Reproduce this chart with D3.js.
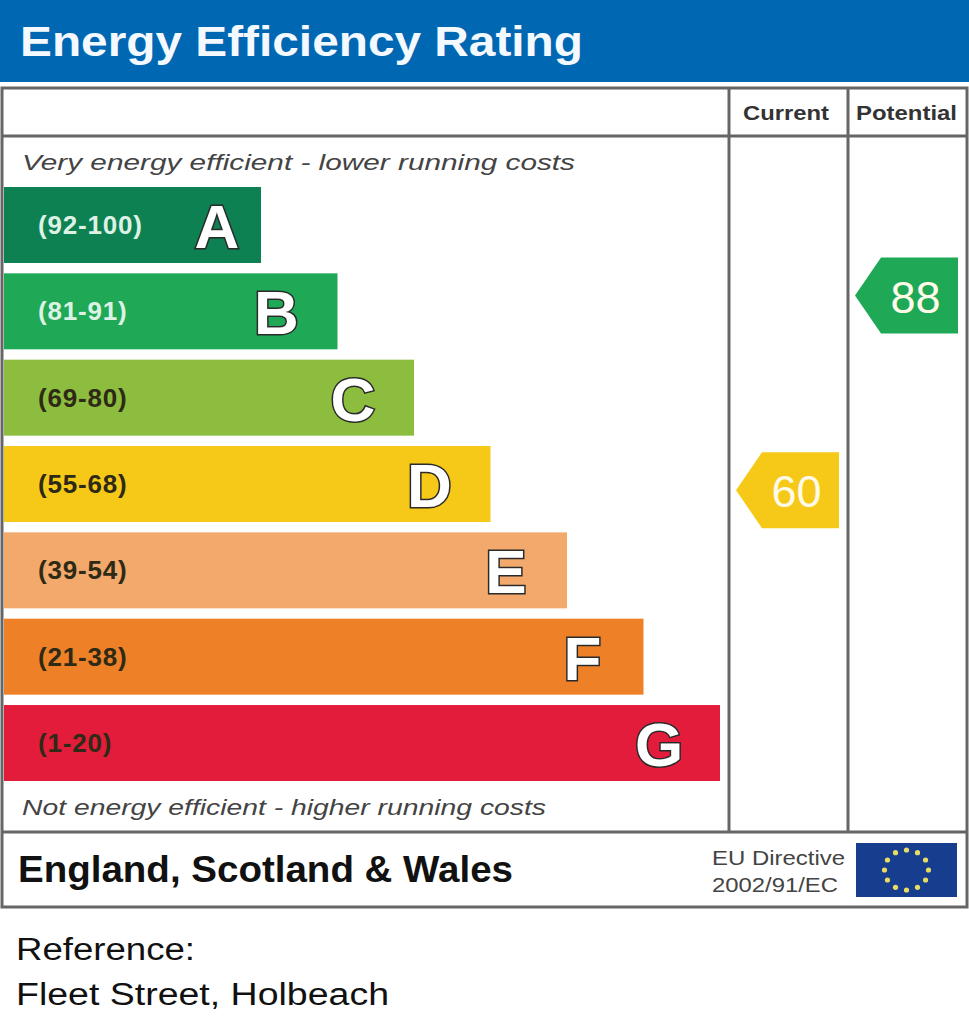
<!DOCTYPE html>
<html>
<head>
<meta charset="utf-8">
<script src="https://cdn.jsdelivr.net/npm/d3@7"></script>
<style>
  body { margin: 0; background: #fff; }
  text { font-family: "Liberation Sans", Arial, sans-serif; }
</style>
</head>
<body>
<script>
/* epc.js */

// Rating bands, top (best) to bottom (worst)
var bandLetters = ["A", "B", "C", "D", "E", "F", "G"];
var bandRanges = ["(92-100)", "(81-91)", "(69-80)", "(55-68)", "(39-54)", "(21-38)", "(1-20)"];
var bandLow = [92, 81, 69, 55, 39, 21, 1];
var bandHigh = [100, 91, 80, 68, 54, 38, 20];
var bandColors = ["#0e8153", "#1fa956", "#8cbd3f", "#f6c919", "#f2a96b", "#ee8128", "#e41c3b"];
var bandLabelColors = ["#ddf2e4", "#ddf2e4", "#2e2a16", "#2e2a16", "#2e2a16", "#2e2a16", "#2e2a16"];

// Ratings for this property
var columnNames = ["Current", "Potential"];
var ratingValues = [60, 88];

const width = 969;
const height = 1024;

var svg = d3.select('body')
	.append('svg')
	.attr('width', width)
	.attr('height', height);

// fit a text to a measured width
function fitText(sel, w) {
	sel.attr('textLength', w).attr('lengthAdjust', 'spacingAndGlyphs');
	return sel;
}

// header bar
svg.append('rect')
	.attr('x', 0).attr('y', 0)
	.attr('width', width).attr('height', 82)
	.attr('fill', '#0068b3');

fitText(svg.append('text')
	.attr('x', 20).attr('y', 56)
	.attr('fill', '#f4f8ff')
	.style('font-size', '42px')
	.style('font-weight', 'bold')
	.text('Energy Efficiency Rating'), 563);

// frame
var box = { left: 2, right: 967, top: 88, head: 136, foot: 832, bottom: 907 };
var colX = [729, 848];
var lineColor = '#666';

var frame = svg.append('g').attr('stroke', lineColor).attr('fill', 'none');
frame.append('rect')
	.attr('x', box.left).attr('y', box.top)
	.attr('width', box.right - box.left).attr('height', box.bottom - box.top)
	.attr('stroke-width', 3);
frame.append('line')
	.attr('x1', box.left).attr('x2', box.right)
	.attr('y1', box.head).attr('y2', box.head)
	.attr('stroke-width', 3);
frame.append('line')
	.attr('x1', box.left).attr('x2', box.right)
	.attr('y1', box.foot).attr('y2', box.foot)
	.attr('stroke-width', 3);
colX.forEach(function(x) {
	frame.append('line')
		.attr('x1', x).attr('x2', x)
		.attr('y1', box.top).attr('y2', box.foot)
		.attr('stroke-width', 3);
});

// column headers
var colWidths = [86, 101];
var colStart = [743, 856];
columnNames.forEach(function(name, i) {
	fitText(svg.append('text')
		.attr('x', colStart[i]).attr('y', 120)
		.attr('fill', '#333')
		.style('font-size', '21px')
		.style('font-weight', 'bold')
		.text(name), colWidths[i]);
});

fitText(svg.append('text')
	.attr('x', 22).attr('y', 170)
	.attr('fill', '#444')
	.style('font-size', '22px')
	.style('font-style', 'italic')
	.text('Very energy efficient - lower running costs'), 553);

fitText(svg.append('text')
	.attr('x', 22).attr('y', 815)
	.attr('fill', '#444')
	.style('font-size', '22px')
	.style('font-style', 'italic')
	.text('Not energy efficient - higher running costs'), 524);

// scales
var yScale = d3.scaleBand()
	.domain(bandLetters)
	.range([187, 781])
	.paddingInner(0.12);

var xScale = d3.scaleLinear()
	.domain([0, bandLetters.length - 1])
	.range([261, 720]);

var barLeft = 4;

var bands = bandLetters.map(function(letter, i) {
	return { letter: letter, range: bandRanges[i], low: bandLow[i], high: bandHigh[i],
		color: bandColors[i], labelColor: bandLabelColors[i], index: i };
});

var bars = svg.append('g').classed('bars', true)
	.selectAll('.band')
	.data(bands)
	.enter().append('g').classed('band', true);

bars.append('rect')
	.attr('x', barLeft)
	.attr('y', d => yScale(d.letter))
	.attr('width', d => xScale(d.index) - barLeft)
	.attr('height', yScale.bandwidth())
	.attr('fill', d => d.color);

bars.append('text')
	.attr('x', 38)
	.attr('y', d => yScale(d.letter) + yScale.bandwidth() / 2 + 9)
	.attr('fill', d => d.labelColor)
	.style('font-size', '26px')
	.style('font-weight', 'bold')
	.style('letter-spacing', '0.8px')
	.text(d => d.range);

// the A bar is short, so its letter sits closer to the end
bars.append('text')
	.attr('x', d => xScale(d.index) - (d.index === 0 ? 44 : 61))
	.attr('y', d => yScale(d.letter) + yScale.bandwidth() / 2 + 23)
	.attr('text-anchor', 'middle')
	.attr('fill', '#fff')
	.attr('stroke', '#2a2a2a')
	.attr('stroke-width', 3)
	.attr('paint-order', 'stroke')
	.style('font-size', '62px')
	.style('font-weight', 'bold')
	.text(d => d.letter);

// vertical position of a rating inside its band
function ratingY(v) {
	var b = bands.find(d => v >= d.low && v <= d.high);
	var inner = d3.scaleLinear()
		.domain([b.high + 1, b.low])
		.range([yScale(b.letter), yScale(b.letter) + yScale.bandwidth()]);
	return { y: inner(v + 0.5), band: b };
}

// rating arrows
var arrowH = yScale.bandwidth();
var tip = 26;
ratingValues.forEach(function(v, i) {
	var r = ratingY(v);
	var x0 = colX[i] + 7;
	var x1 = (i === 0 ? colX[1] : box.right) - 9;
	var y0 = r.y - arrowH / 2 - 2;
	var pts = [[x0, y0 + arrowH / 2], [x0 + tip, y0], [x1, y0], [x1, y0 + arrowH], [x0 + tip, y0 + arrowH]];
	svg.append('path')
		.attr('d', d3.line()(pts) + 'Z')
		.attr('fill', r.band.color);
	svg.append('text')
		.attr('x', (x0 + tip + x1) / 2 - 4)
		.attr('y', y0 + arrowH / 2 + 17)
		.attr('text-anchor', 'middle')
		.attr('fill', '#fffbe8')
		.style('font-size', '45px')
		.text(v);
});

// footer
fitText(svg.append('text')
	.attr('x', 18).attr('y', 882)
	.attr('fill', '#111')
	.style('font-size', '37px')
	.style('font-weight', 'bold')
	.text('England, Scotland & Wales'), 495);

fitText(svg.append('text')
	.attr('x', 712).attr('y', 865)
	.attr('fill', '#444')
	.style('font-size', '21px')
	.text('EU Directive'), 133);

fitText(svg.append('text')
	.attr('x', 712).attr('y', 892)
	.attr('fill', '#444')
	.style('font-size', '21px')
	.text('2002/91/EC'), 126);

// EU flag
var flag = { x: 856, y: 843, w: 101, h: 54 };
svg.append('rect')
	.attr('x', flag.x).attr('y', flag.y)
	.attr('width', flag.w).attr('height', flag.h)
	.attr('fill', '#173d8f');
svg.append('g')
	.selectAll('circle')
	.data(d3.range(12))
	.enter().append('circle')
	.attr('cx', d => flag.x + flag.w / 2 + 22 * Math.sin(d * Math.PI / 6))
	.attr('cy', d => flag.y + flag.h / 2 - 20 * Math.cos(d * Math.PI / 6))
	.attr('r', 2.6)
	.attr('fill', '#e8dc62');

// reference
fitText(svg.append('text')
	.attr('x', 16).attr('y', 960)
	.attr('fill', '#111')
	.style('font-size', '31px')
	.text('Reference:'), 179);

fitText(svg.append('text')
	.attr('x', 16).attr('y', 1005)
	.attr('fill', '#111')
	.style('font-size', '31px')
	.text('Fleet Street, Holbeach'), 373);
</script>
</body>
</html>
